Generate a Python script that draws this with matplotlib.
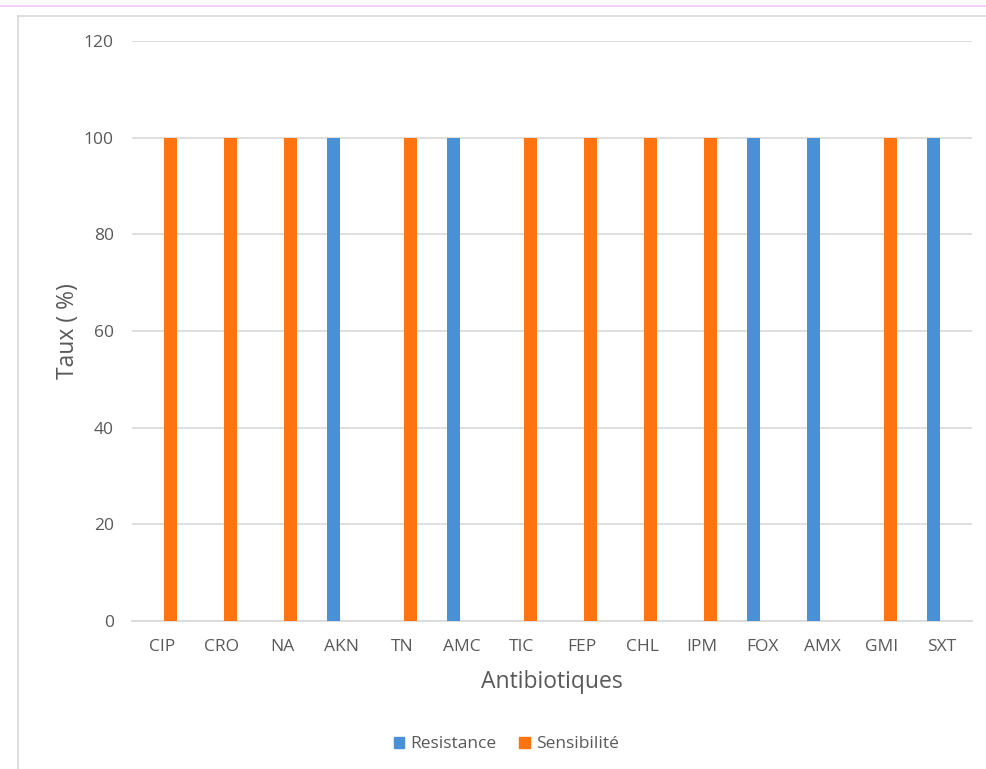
import matplotlib
matplotlib.use("Agg")
import matplotlib.pyplot as plt
from matplotlib.lines import Line2D
from matplotlib.patches import Patch
import numpy as np

categories = ["CIP", "CRO", "NA", "AKN", "TN", "AMC", "TIC", "FEP", "CHL", "IPM", "FOX", "AMX", "GMI", "SXT"]
resistance = [0, 0, 0, 100, 0, 100, 0, 0, 0, 0, 100, 100, 0, 100]
sensibilite = [100, 100, 100, 0, 100, 0, 100, 100, 100, 100, 0, 0, 100, 0]
yticks = [0, 20, 40, 60, 80, 100, 120]

plt.rcParams['font.family'] = ['Open Sans', 'DejaVu Sans']
blue = "#4a90d6"
orange = "#ff7410"
txt = "#595959"

fig = plt.figure(figsize=(9.87, 7.69), dpi=100)
ax = fig.add_axes([0.1337, 0.1925, 0.8511, 0.7542])

x = np.arange(len(categories))
w = 0.22
off = 0.145
ax.bar(x - off, resistance, width=w, color=blue, label="Resistance", zorder=3)
ax.bar(x + off, sensibilite, width=w, color=orange, label="Sensibilité", zorder=3)

ax.set_xlim(-0.5, len(categories) - 0.5)
ax.set_ylim(0, 120)
ax.set_yticks(yticks)
ax.set_xticks(x)
ax.set_xticklabels(categories)
ax.yaxis.grid(True, color="#d9d9d9", linewidth=1.2, zorder=0)
ax.set_axisbelow(True)
for s in ["top", "right", "left"]:
    ax.spines[s].set_visible(False)
ax.spines["bottom"].set_color("#d9d9d9")
ax.spines["bottom"].set_linewidth(1.2)
ax.tick_params(axis="both", length=0, labelsize=12.5, colors=txt)
ax.tick_params(axis="x", pad=13)
ax.tick_params(axis="y", pad=13)
ax.set_xlabel("Antibiotiques", fontsize=16.5, color=txt, labelpad=11)
ax.set_ylabel("Taux ( %)", fontsize=16.5, color=txt, labelpad=3)

handles = [Patch(color=blue, label="Resistance"), Patch(color=orange, label="Sensibilité")]
fig.legend(handles=handles, loc="center", bbox_to_anchor=(0.513, 0.032), ncol=2, frameon=False,
           fontsize=12.5, labelcolor=txt, handlelength=0.6, handleheight=0.6, handletextpad=0.35,
           columnspacing=1.3)

# decorative borders
fig.add_artist(Line2D([0, 1], [1 - 6/769, 1 - 6/769], color="#f5c6f5", linewidth=1.2))
fig.add_artist(Line2D([18/987, 18/987], [0, 1 - 16/769], color="#d9d9d9", linewidth=1.2))
fig.add_artist(Line2D([18/987, 1], [1 - 16/769, 1 - 16/769], color="#d9d9d9", linewidth=1.2))

fig.savefig("out.png", dpi=100)
